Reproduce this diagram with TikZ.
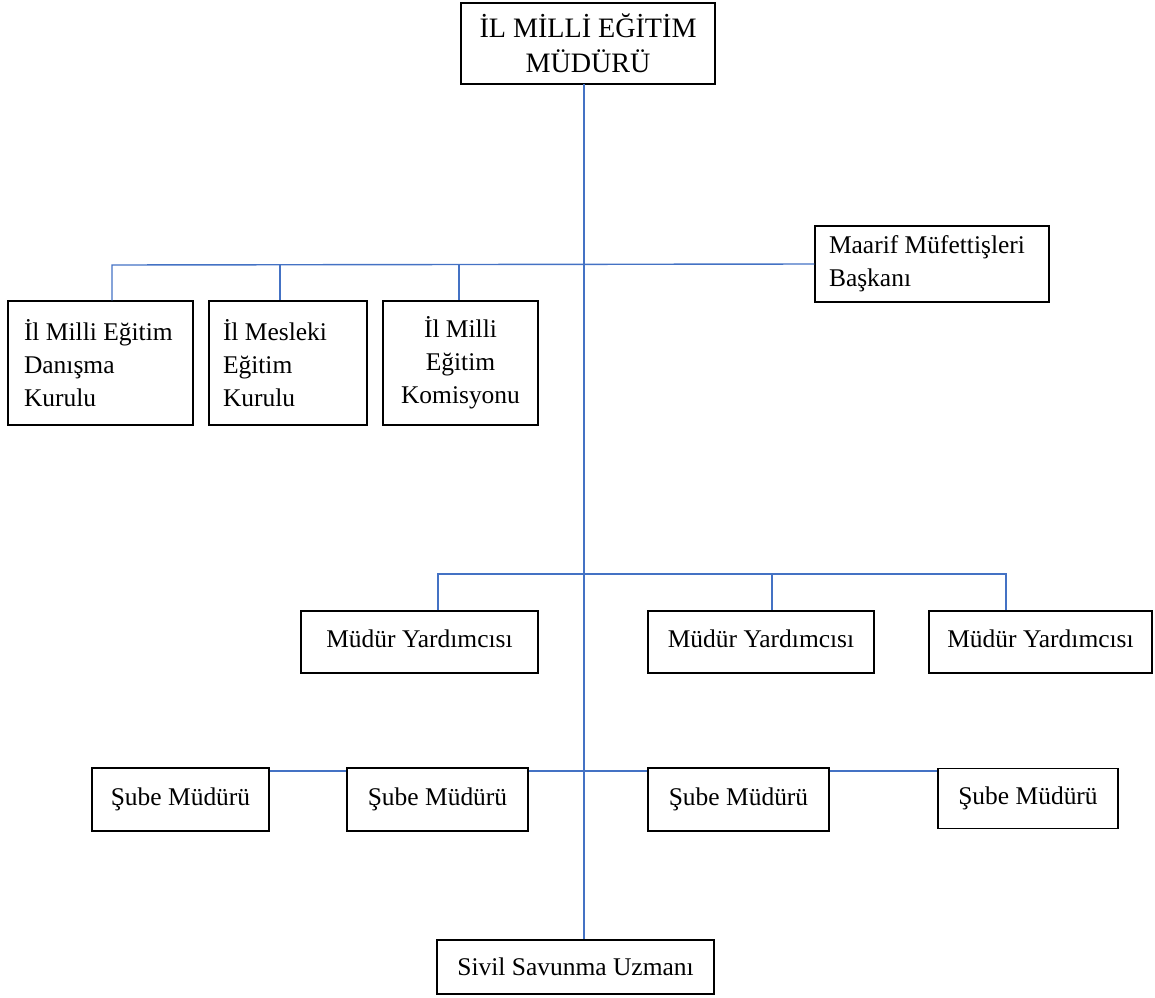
\documentclass[tikz,border=0pt]{standalone}
\usepackage{fontspec}
\setmainfont{Liberation Serif}
\definecolor{linkblue}{RGB}{68,114,196}

\begin{document}
\begin{tikzpicture}[x=0.02cm, y=-0.02cm,
    unit/.style={draw, line width=0.8pt, inner sep=0pt, font=\fontsize{14.5}{18.7}\selectfont},
    link/.style={draw=linkblue, line width=0.8pt}]
    \useasboundingbox (0,0) rectangle (1155,997);

    % top
    \node[unit, minimum width=5.08cm, minimum height=1.62cm, align=center, font=\fontsize{16}{20}\selectfont] (mudur) at (588,43.5) {İL MİLLİ EĞİTİM\\MÜDÜRÜ};
    \node[unit, minimum width=4.68cm, minimum height=1.52cm, text width=4.12cm, align=flush left] (maarif) at (932,264) {Maarif Müfettişleri\\Başkanı};

    % kurullar
    \node[unit, minimum width=3.7cm, minimum height=2.48cm, text width=3.06cm, align=flush left] (danisma) at (100.5,363) {İl Milli Eğitim\\Danışma\\Kurulu};
    \node[unit, minimum width=3.16cm, minimum height=2.48cm, text width=2.6cm, align=flush left] (mesleki) at (288,363) {İl Mesleki\\Eğitim\\Kurulu};
    \node[unit, minimum width=3.1cm, minimum height=2.48cm, align=center] (komisyon) at (460.5,363) {İl Milli\\Eğitim\\Komisyonu};

    % mudur yardimcilari
    \node[unit, minimum width=4.74cm, minimum height=1.24cm] (yard1) at (419.5,642) {\raisebox{4pt}{Müdür Yardımcısı}};
    \node[unit, minimum width=4.52cm, minimum height=1.24cm] (yard2) at (761,642) {\raisebox{4pt}{Müdür Yardımcısı}};
    \node[unit, minimum width=4.46cm, minimum height=1.24cm] (yard3) at (1040.5,642) {\raisebox{4pt}{Müdür Yardımcısı}};

    % sube mudurleri
    \node[unit, minimum width=3.54cm, minimum height=1.26cm] (sube1) at (180.5,799.5) {Şube Müdürü};
    \node[unit, minimum width=3.62cm, minimum height=1.26cm] (sube2) at (437.5,799.5) {Şube Müdürü};
    \node[unit, minimum width=3.62cm, minimum height=1.26cm] (sube3) at (738.5,799.5) {Şube Müdürü};
    \node[unit, minimum width=3.6cm, minimum height=1.2cm] (sube4) at (1028,798.5) {Şube Müdürü};

    \node[unit, minimum width=5.54cm, minimum height=1.08cm] (sivil) at (575.5,967) {Sivil Savunma Uzmanı};

    % connectors
    \coordinate (spine) at (584,84);
    \coordinate (k1) at (112,265);
    \coordinate (k2) at (280,265);
    \coordinate (k3) at (459,265);
    \coordinate (m1) at (438,574);
    \coordinate (m2) at (772,574);
    \coordinate (m3) at (1006,574);
    \coordinate (s) at (0,771);

    \draw[link] (spine) -- (spine |- sivil.north);
    \draw[link] (maarif.west) -- (k1) -- (k1 |- danisma.north);
    \draw[link] (k2) -- (k2 |- mesleki.north);
    \draw[link] (k3) -- (k3 |- komisyon.north);
    \draw[link] (m1 |- yard1.north) -- (m1) -- (m3) -- (m3 |- yard3.north);
    \draw[link] (m2) -- (m2 |- yard2.north);
    \draw[link] (sube1.east |- s) -- (sube2.west |- s);
    \draw[link] (sube2.east |- s) -- (sube3.west |- s);
    \draw[link] (sube3.east |- s) -- (sube4.west |- s);
\end{tikzpicture}
\end{document}
